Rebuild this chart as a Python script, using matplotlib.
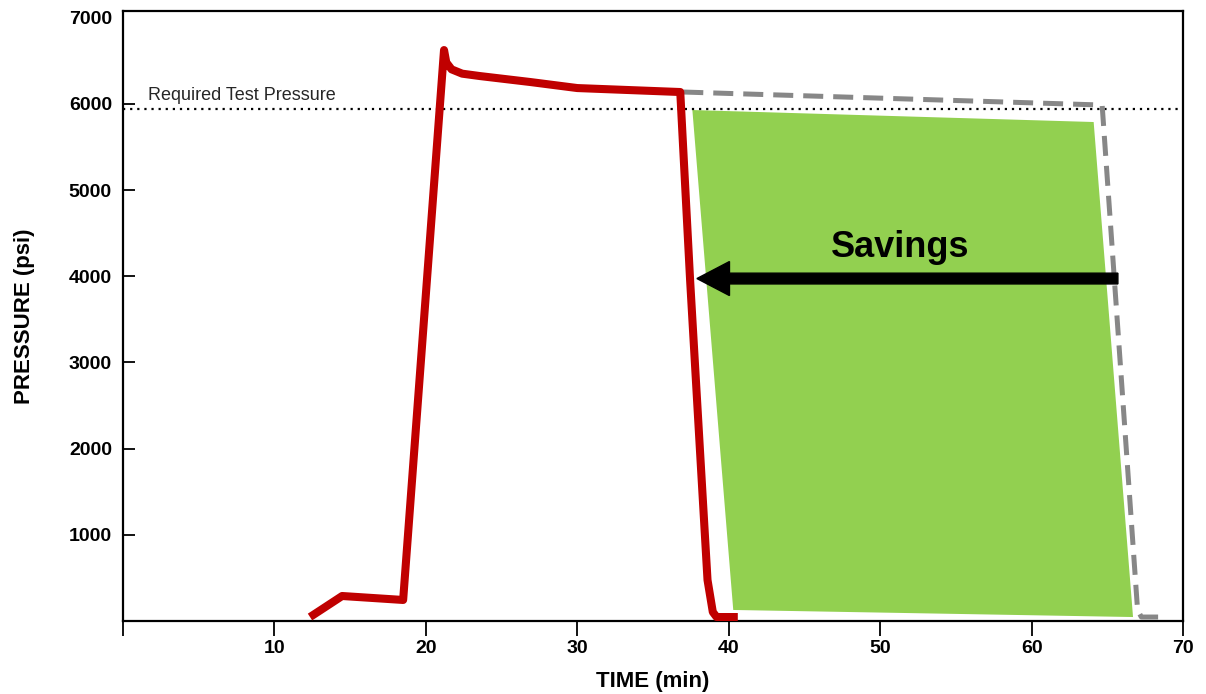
import matplotlib.pyplot as plt
from matplotlib.patches import Polygon, FancyArrow

plt.rcParams['font.family'] = ['Liberation Sans', 'DejaVu Sans']

# measured pressure trace (min, psi)
red_time = [12.35, 14.47, 18.5, 21.2, 21.35, 21.7, 22.4, 23.58, 26.9, 30.0, 36.8,
            37.0, 37.45, 38.1, 38.6, 38.95, 39.2, 40.6]
red_psi = [46, 290, 244, 6624, 6480, 6400, 6350, 6322, 6253, 6183, 6137,
           5464, 3956, 1984, 476, 104, 46, 46]

# conventional test trace
gray_time = [37.0, 64.66, 67.0, 67.25, 68.8]
gray_psi = [6137, 5986, 128, 46, 46]

# savings region corners
green_time = [37.6, 64.1, 66.7, 40.3]
green_psi = [5928, 5789, 46, 128]

required_psi = 5940
arrow_psi = 3973
arrow_from = 65.7
arrow_to = 37.9

x_ticks = [0, 10, 20, 30, 40, 50, 60, 70]
x_labels = ["", "10", "20", "30", "40", "50", "60", "70"]
y_ticks = [1000, 2000, 3000, 4000, 5000, 6000, 7000]

DPI = 100
fig = plt.figure(figsize=(1206 / DPI, 694 / DPI), dpi=DPI)
ax = fig.add_axes([123 / 1206, 73 / 694, 1060 / 1206, 610 / 694])

ax.add_patch(Polygon(list(zip(green_time, green_psi)), closed=True,
                     facecolor="#92D050", edgecolor="none", zorder=1))

ax.plot([0, 70], [required_psi, required_psi], color="black", lw=1.6,
        linestyle=(0, (1, 2.2)), zorder=2)
ax.text(1.65, required_psi + 60, "Required Test Pressure", fontsize=13,
        color="#262626", va="bottom", ha="left")

ax.plot(gray_time, gray_psi, color="#878787", lw=3.6, dashes=(4, 2),
        solid_joinstyle="miter", zorder=3)
ax.plot(red_time, red_psi, color="#C00000", lw=5.8, solid_joinstyle="round",
        solid_capstyle="butt", zorder=4)

# arrow (width in data units of psi, length in minutes)
ax.add_patch(FancyArrow(arrow_from, arrow_psi, arrow_to - arrow_from, 0,
                        width=125, head_width=395, head_length=2.15,
                        length_includes_head=True, color="black", zorder=5))
ax.text(51.3, 4330, "Savings", fontsize=26, fontweight="bold", ha="center",
        va="center", color="black", zorder=6)

ax.set_xlim(0, 70)
ax.set_ylim(0, 7077)
ax.set_xticks(x_ticks)
ax.set_xticklabels(x_labels)
ax.set_yticks(y_ticks)
ax.tick_params(axis="x", direction="out", length=11, width=1.3, pad=3,
               labelsize=14)
ax.tick_params(axis="y", direction="in", length=8.5, width=1.3, pad=8,
               labelsize=14)
# no tick mark drawn at the 7000 label
ax.yaxis.get_major_ticks()[-1].tick1line.set_visible(False)
for lab in ax.get_xticklabels() + ax.get_yticklabels():
    lab.set_fontweight("bold")
for sp in ax.spines.values():
    sp.set_linewidth(1.6)
    sp.set_color("black")

ax.set_xlabel("TIME (min)", fontsize=16, fontweight="bold", labelpad=10)
ax.set_ylabel("PRESSURE (psi)", fontsize=16, fontweight="bold", labelpad=24)

plt.savefig("out.png", dpi=DPI)
plt.close()
